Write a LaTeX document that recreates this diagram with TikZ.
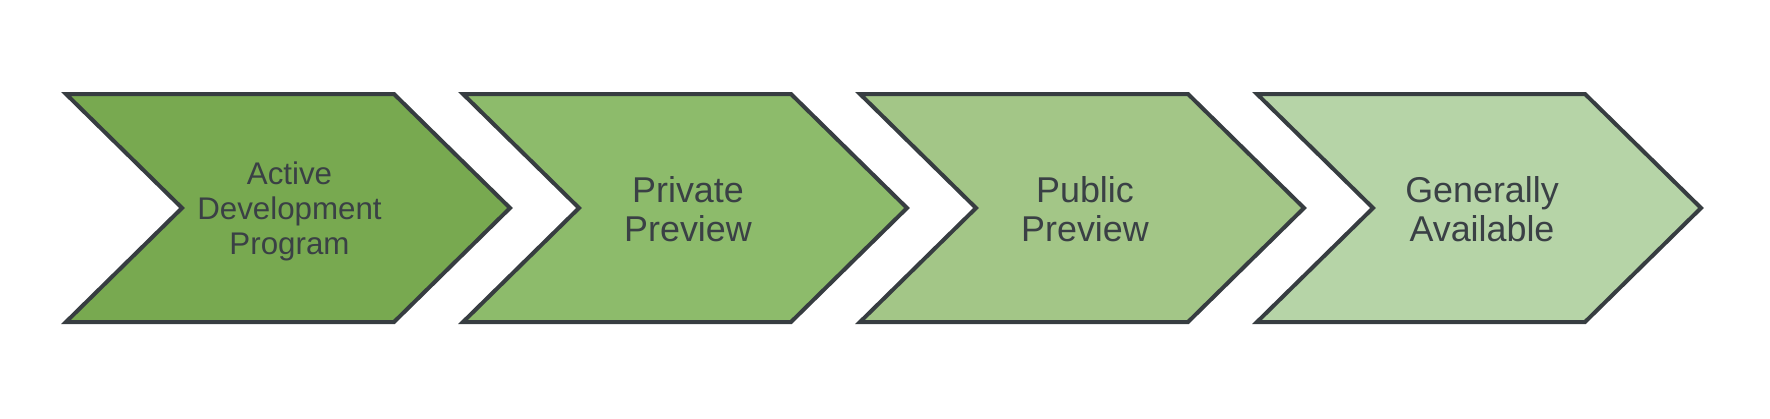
\documentclass[tikz,border=0pt]{standalone}
\usepackage{fontspec}
\setmainfont{Liberation Sans}
\definecolor{fillA}{RGB}{120,169,80}
\definecolor{fillB}{RGB}{141,187,107}
\definecolor{fillC}{RGB}{163,198,135}
\definecolor{fillD}{RGB}{182,212,167}
\definecolor{edge}{RGB}{55,61,65}
\definecolor{txt}{RGB}{58,64,69}
\tikzset{
  chev/.style={draw=edge, line width=0.04cm, line join=miter},
  lbl/.style={text=txt, align=center, inner sep=0pt, font=\fontsize{10.2pt}{11.2pt}\selectfont},
  lblsmall/.style={text=txt, align=center, inner sep=0pt, font=\fontsize{8.9pt}{9.95pt}\selectfont},
}
\newcommand{\chevronat}[2]{%
  \path[chev, fill=#2] (#1,94) -- ++(328,0) -- ++(116,114) -- ++(-116,114) -- ++(-328,0) -- ++(116,-114) -- cycle;}
\begin{document}
\begin{tikzpicture}[x=0.01cm, y=-0.01cm]
\useasboundingbox (0,0) rectangle (1770,418);
\chevronat{66}{fillA}
\chevronat{463}{fillB}
\chevronat{860}{fillC}
\chevronat{1257}{fillD}
\node[lblsmall] (s1) at (289.5,211) {Active\\Development\\Program};
\node[lbl] (s2) at (688,209) {Private\\Preview};
\node[lbl] (s3) at (1085,209) {Public\\Preview};
\node[lbl] (s4) at (1482,209) {Generally\\Available};
\end{tikzpicture}
\end{document}
